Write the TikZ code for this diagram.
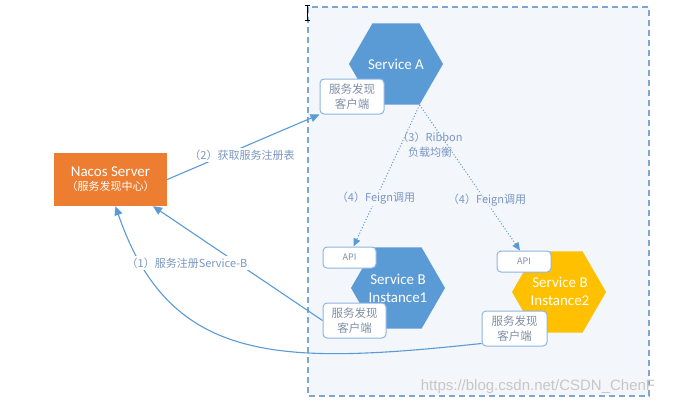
\documentclass[tikz,border=0pt]{standalone}
\usepackage{fontspec}
\setmainfont{Carlito}
\newfontfamily\cjk{Noto Sans CJK SC}
\newfontfamily\wmfont{Liberation Sans}
\usetikzlibrary{shapes.geometric,arrows.meta,calc}
\definecolor{hexblue}{HTML}{5B9BD5}
\definecolor{hexorange}{HTML}{ED7D31}
\definecolor{hexyellow}{HTML}{FFC000}
\definecolor{linecol}{HTML}{5B9BD5}
\definecolor{boxline}{HTML}{8EB4E3}
\definecolor{labcol}{HTML}{7A97C2}
\definecolor{clientcol}{HTML}{808FA6}
\definecolor{bgzone}{HTML}{F3F6FA}
\definecolor{dashcol}{HTML}{7EA6D2}
\begin{document}
\begin{tikzpicture}[x=1pt,y=-1pt,
 hexa/.style={regular polygon, regular polygon sides=6, minimum size=94pt, inner sep=0pt, draw=none},
 hextext/.style={text=white, font=\fontsize{15}{18}\selectfont, align=center, inner sep=0pt},
 smallbox/.style={draw=boxline, line width=1pt, fill=white, rounded corners=4pt, inner sep=0pt},
 clienttext/.style={font=\cjk\fontsize{11.5}{15}\selectfont, text=clientcol, align=center},
 apitext/.style={font=\cjk\fontsize{9}{11}\selectfont, text=clientcol},
 conn/.style={draw=linecol, line width=1.1pt, -{Triangle[length=9pt,width=8pt]}},
 dotconn/.style={draw=linecol, line width=1pt, dotted, -{Triangle[length=8pt,width=7pt]}},
 lab/.style={font=\cjk\fontsize{11}{15}\selectfont, text=labcol, inner sep=2pt, align=center},
]
\useasboundingbox (0,0) rectangle (674,407);
\fill[white] (0,0) rectangle (674,407);

% dashed zone
\draw[dashcol, line width=1.2pt, dash pattern=on 6pt off 4pt, fill=bgzone] (308,7) rectangle (649,396);

% cursor
\draw[black, line width=0.9pt] (307,5) -- (307,20) (304.5,5) -- (309.5,5) (304.5,20) -- (309.5,20);

% hexagons
\node[hexa, fill=hexblue] (hexA) at (396,64) {};
\node[hexa, fill=hexblue] (hexB1) at (398,288) {};
\node[hexa, fill=hexyellow] (hexB2) at (559,292) {};
\node[hextext] (tA) at (hexA.center) {Service A};
\node[hextext] (tB1) at (hexB1.center) {Service B\\Instance1};
\node[hextext] (tB2) at (560,291) {Service B\\Instance2};

% Nacos
\node[fill=hexorange, minimum width=113pt, minimum height=53pt, text=white, align=center, inner sep=0pt] (nacos) at (110.5,179.5)
 {\fontsize{15}{18}\selectfont Nacos Server\\[2pt]{\cjk\fontsize{11}{14}\selectfont （服务发现中心）}};

% small boxes
\node[smallbox, clienttext, minimum width=64pt, minimum height=35pt] (clientA) at (352,96.5) {服务发现\\客户端};
\node[smallbox, apitext, minimum width=53pt, minimum height=21pt] (apiB1) at (349.5,257.5) {API};
\node[smallbox, apitext, minimum width=54pt, minimum height=21pt] (apiB2) at (524,261.5) {API};

% coordinates
\coordinate (rib) at (hexA.-60);
\coordinate (endL) at ($(apiB1.north)+(4,0)$);
\coordinate (endR) at ($(apiB2.north)+(-4,0)$);
\coordinate (nacIn1) at ($(nacos.south)!0.75!(nacos.south east)$);
\coordinate (nacIn2) at ($(nacos.south)+(5,0)$);

% dotted feign arrows
\draw[dotconn] (rib) -- (endL);
\draw[dotconn] (rib) -- (endR);

% client boxes of B (drawn after to sit on top)
\node[smallbox, clienttext, minimum width=63pt, minimum height=35pt] (clientB1) at (354.5,320.5) {服务发现\\客户端};
\node[smallbox, clienttext, minimum width=65pt, minimum height=35pt] (clientB2) at (514.5,328.5) {服务发现\\客户端};
\coordinate (curveStart) at ([yshift=3pt]clientB2.south west);

% connectors to/from Nacos
\draw[conn] (nacos.east) -- (clientA.south west);
\draw[conn] (clientB1.west) -- (nacIn1);
\draw[conn] (curveStart) .. controls (280,365) and (170,365) .. (nacIn2);

% labels
\node[lab, fill=white] (l2) at (242,155) {（2）获取服务注册表};
\node[lab, fill=white] (l1) at (187,263) {（1）服务注册Service-B};
\node[lab] (l3) at (430,145) {（3）Ribbon\\负载均衡};
\node[lab, fill=bgzone] (l4a) at (376,198) {（4）Feign调用};
\node[lab, fill=bgzone, fill opacity=0.6, text opacity=1] (l4b) at (487,200) {（4）Feign调用};

% watermark
\node[font=\wmfont\fontsize{15}{18}\selectfont, text=black!22] (wm) at (538,387) {https://blog.csdn.net/CSDN\_ChenF};
\end{tikzpicture}
\end{document}
